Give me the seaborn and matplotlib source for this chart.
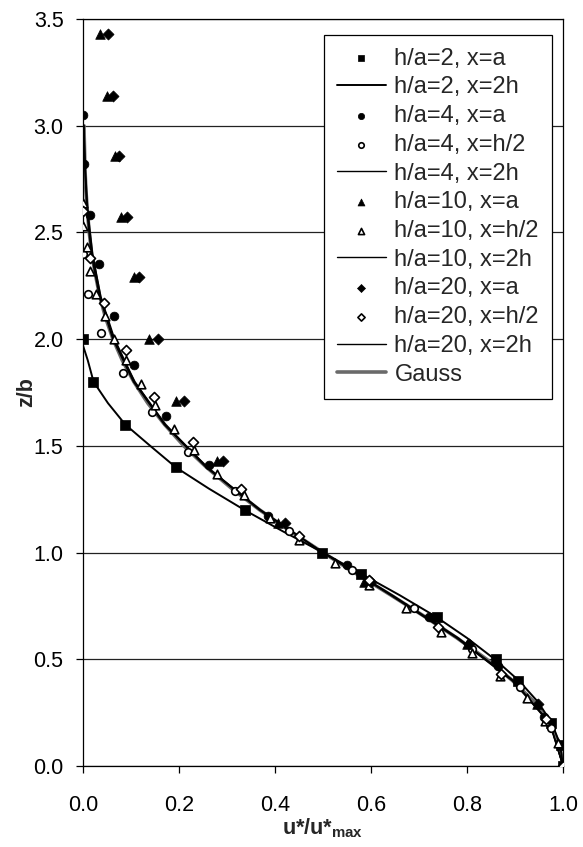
import matplotlib
matplotlib.use("Agg")
import matplotlib.pyplot as plt
import seaborn as sns
import pandas as pd

sns.set_theme(style="white")
plt.rcParams['font.family'] = ['Liberation Sans', 'DejaVu Sans']
plt.rcParams['mathtext.fontset'] = 'custom'
plt.rcParams['mathtext.rm'] = 'Liberation Sans'
plt.rcParams['mathtext.bf'] = 'Liberation Sans:bold'

# ---------------- data ----------------
# h/a=2, x=a  (filled squares)
z_ha2_a = [2.0, 1.8, 1.6, 1.4, 1.2, 1.0, 0.9, 0.7, 0.5, 0.4, 0.2, 0.1, 0.0]
u_ha2_a = [0.0, 0.021, 0.088, 0.193, 0.338, 0.498, 0.58, 0.737, 0.86, 0.906, 0.975, 0.995, 1.0]

# h/a=2, x=2h (line)
z_ha2_2h = [1.97, 1.9, 1.8, 1.7, 1.6, 1.5, 1.4, 1.3, 1.2, 1.1, 1.0, 0.9, 0.8, 0.7, 0.6, 0.5, 0.4, 0.3, 0.2, 0.1, 0.0]
u_ha2_2h = [0.0, 0.01, 0.022, 0.052, 0.088, 0.14, 0.193, 0.262, 0.336, 0.416, 0.50, 0.58, 0.66, 0.735, 0.80, 0.858, 0.908, 0.948, 0.977, 0.994, 1.0]

# h/a=4, x=a (filled circles)
z_ha4_a = [3.05, 2.82, 2.58, 2.35, 2.11, 1.88, 1.64, 1.41, 1.17, 0.94, 0.70, 0.47, 0.23, 0.0]
u_ha4_a = [0.0, 0.003, 0.015, 0.033, 0.065, 0.106, 0.173, 0.263, 0.385, 0.55, 0.72, 0.865, 0.96, 1.0]

# h/a=4, x=h/2 (open circles)
z_ha4_h2 = [2.61, 2.40, 2.21, 2.03, 1.84, 1.66, 1.47, 1.29, 1.10, 0.92, 0.74, 0.55, 0.37, 0.18, 0.0]
u_ha4_h2 = [0.0, 0.0, 0.01, 0.037, 0.083, 0.143, 0.219, 0.317, 0.43, 0.56, 0.69, 0.81, 0.91, 0.975, 1.0]

# h/a=4, x=2h (line)
z_ha4_2h = [3.0, 2.8, 2.6, 2.4, 2.2, 2.0, 1.8, 1.6, 1.4, 1.2, 1.0, 0.8, 0.6, 0.4, 0.2, 0.0]
u_ha4_2h = [0.002, 0.004, 0.009, 0.019, 0.036, 0.064, 0.107, 0.171, 0.258, 0.369, 0.50, 0.645, 0.782, 0.897, 0.973, 1.0]

# h/a=10, x=a (filled triangles)
z_ha10_a = [3.43, 3.14, 2.86, 2.57, 2.29, 2.0, 1.71, 1.43, 1.14, 0.86, 0.57, 0.29, 0.0]
u_ha10_a = [0.035, 0.05, 0.067, 0.079, 0.106, 0.1375, 0.193, 0.28, 0.406, 0.585, 0.80, 0.945, 1.0]

# h/a=10, x=h/2 (open triangles)
z_ha10_h2 = [2.64, 2.53, 2.43, 2.32, 2.21, 2.11, 2.00, 1.90, 1.79, 1.69, 1.58, 1.48, 1.37,
             1.27, 1.16, 1.06, 0.95, 0.85, 0.74, 0.63, 0.53, 0.42, 0.32, 0.21, 0.11, 0.0]
u_ha10_h2 = [0.0, 0.0, 0.009, 0.015, 0.027, 0.046, 0.065, 0.09, 0.12, 0.15, 0.19, 0.232, 0.28,
             0.335, 0.39, 0.45, 0.525, 0.595, 0.673, 0.745, 0.81, 0.868, 0.925, 0.962, 0.99, 1.0]

# h/a=10, x=2h (line)
z_ha10_2h = [3.0, 2.8, 2.6, 2.4, 2.2, 2.0, 1.8, 1.6, 1.4, 1.2, 1.0, 0.8, 0.6, 0.4, 0.2, 0.0]
u_ha10_2h = [0.001, 0.004, 0.008, 0.017, 0.034, 0.062, 0.105, 0.169, 0.256, 0.367, 0.50, 0.641, 0.778, 0.894, 0.972, 1.0]

# h/a=20, x=a (filled diamonds)
z_ha20_a = [3.43, 3.14, 2.86, 2.57, 2.29, 2.0, 1.71, 1.43, 1.14, 0.86, 0.57, 0.29, 0.0]
u_ha20_a = [0.052, 0.063, 0.075, 0.092, 0.117, 0.156, 0.21, 0.292, 0.42, 0.60, 0.805, 0.948, 1.0]

# h/a=20, x=h/2 (open diamonds)
z_ha20_h2 = [2.60, 2.38, 2.17, 1.95, 1.73, 1.52, 1.30, 1.08, 0.87, 0.65, 0.43, 0.22, 0.0]
u_ha20_h2 = [0.0, 0.015, 0.044, 0.09, 0.148, 0.229, 0.33, 0.45, 0.595, 0.74, 0.87, 0.965, 1.0]

# h/a=20, x=2h (line)
z_ha20_2h = [3.0, 2.8, 2.6, 2.4, 2.2, 2.0, 1.8, 1.6, 1.4, 1.2, 1.0, 0.8, 0.6, 0.4, 0.2, 0.0]
u_ha20_2h = [0.002, 0.005, 0.010, 0.020, 0.037, 0.066, 0.108, 0.172, 0.259, 0.370, 0.50, 0.643, 0.780, 0.896, 0.973, 1.0]

# Gauss
z_gauss = [3.0, 2.9, 2.8, 2.7, 2.6, 2.5, 2.4, 2.3, 2.2, 2.1, 2.0, 1.9, 1.8, 1.7, 1.6, 1.5,
           1.4, 1.3, 1.2, 1.1, 1.0, 0.9, 0.8, 0.7, 0.6, 0.5, 0.4, 0.3, 0.2, 0.1, 0.0]
u_gauss = [0.002, 0.003, 0.004, 0.006, 0.009, 0.013, 0.018, 0.026, 0.035, 0.047, 0.0625, 0.082,
           0.106, 0.135, 0.170, 0.210, 0.257, 0.310, 0.368, 0.432, 0.500, 0.570, 0.642, 0.712,
           0.779, 0.841, 0.895, 0.940, 0.973, 0.993, 1.0]

x_ticks = [0.0, 0.2, 0.4, 0.6, 0.8, 1.0]
y_ticks = [0.0, 0.5, 1.0, 1.5, 2.0, 2.5, 3.0, 3.5]

# ---------------- figure ----------------
fig = plt.figure(figsize=(5.83, 8.47), dpi=100)
ax = fig.add_axes([0.1424, 0.0956, 0.8233, 0.882])

for yv in y_ticks:
    ax.axhline(yv, color='#222222', lw=0.9, zorder=0)

def scat(u, z, marker, filled, label, s):
    df = pd.DataFrame({'u': u, 'z': z})
    sns.scatterplot(data=df, x='u', y='z', ax=ax, marker=marker, s=s,
                    color='black' if filled else 'white',
                    edgecolor='black', linewidth=1.2 if not filled else 0.5,
                    label=label, zorder=4)

def line(u, z, label, color='black', lw=1.0, z_order=3):
    df = pd.DataFrame({'u': u, 'z': z})
    sns.lineplot(data=df, x='u', y='z', ax=ax, sort=False, estimator=None,
                 color=color, lw=lw, label=label, zorder=z_order)

scat(u_ha2_a, z_ha2_a, 's', True, 'h/a=2, x=a', s=42)
line(u_ha2_2h, z_ha2_2h, 'h/a=2, x=2h', lw=1.4)
scat(u_ha4_a, z_ha4_a, 'o', True, 'h/a=4, x=a', s=40)
scat(u_ha4_h2, z_ha4_h2, 'o', False, 'h/a=4, x=h/2', s=30)
line(u_ha4_2h, z_ha4_2h, 'h/a=4, x=2h')
scat(u_ha10_a, z_ha10_a, '^', True, 'h/a=10, x=a', s=48)
scat(u_ha10_h2, z_ha10_h2, '^', False, 'h/a=10, x=h/2', s=38)
line(u_ha10_2h, z_ha10_2h, 'h/a=10, x=2h')
scat(u_ha20_a, z_ha20_a, 'D', True, 'h/a=20, x=a', s=32)
scat(u_ha20_h2, z_ha20_h2, 'D', False, 'h/a=20, x=h/2', s=26)
line(u_ha20_2h, z_ha20_2h, 'h/a=20, x=2h')
line(u_gauss, z_gauss, 'Gauss', color='#6a6a6a', lw=2.6, z_order=2)

ax.set_xlim(0, 1.0)
ax.set_ylim(0, 3.5)
ax.set_xticks(x_ticks)
ax.set_xticklabels([f"{v:.1f}" for v in x_ticks])
ax.set_yticks(y_ticks)
ax.set_yticklabels([f"{v:.1f}" for v in y_ticks])
ax.tick_params(axis='both', which='major', labelsize=15.5, colors='black',
               direction='out', length=5, width=0.9, left=True, bottom=True)
ax.tick_params(axis='x', pad=16)
ax.tick_params(axis='y', pad=9)
for sp in ax.spines.values():
    sp.set_visible(True)
    sp.set_color('black')
    sp.set_linewidth(0.9)

ax.set_ylabel('z/b', fontsize=15.5, fontweight='bold')
ax.yaxis.set_label_coords(-0.096, 0.5)
ax.set_xlabel(r'u*/u*$_{\mathbf{max}}$', fontsize=15.5, fontweight='bold', labelpad=0)

leg = ax.legend(loc='upper right', bbox_to_anchor=(0.977, 0.979), fontsize=17,
                frameon=True, fancybox=False, edgecolor='black', framealpha=1,
                labelspacing=0.285, handlelength=2.1, handletextpad=0.35,
                borderpad=0.55, borderaxespad=0, markerscale=0.72)
leg.get_frame().set_linewidth(0.9)

fig.savefig('out.png', dpi=100)
